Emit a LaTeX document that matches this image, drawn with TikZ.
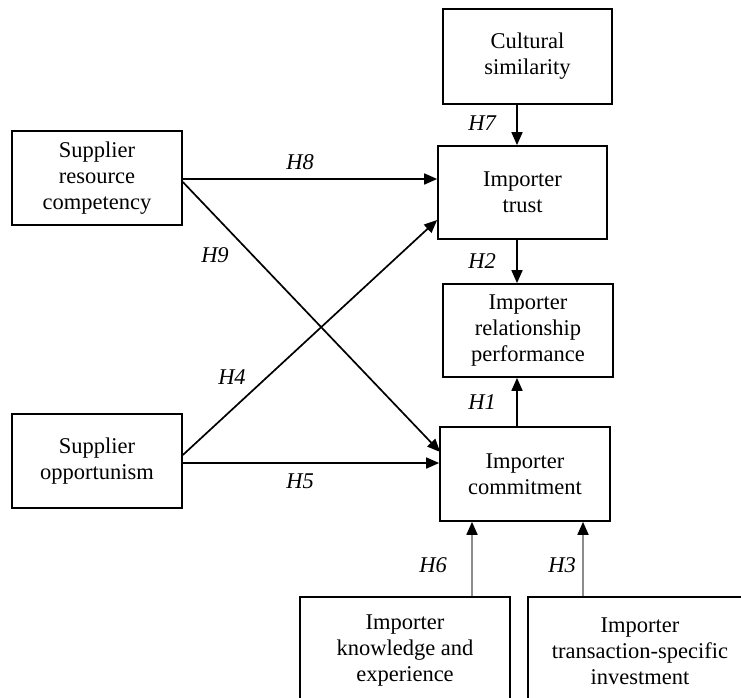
\documentclass[tikz,border=0pt]{standalone}
\usepackage{fontspec}
\setmainfont{Liberation Serif}
\usetikzlibrary{arrows.meta,calc}
\begin{document}
\begin{tikzpicture}[x=1pt,y=-1pt,
  box/.style={draw=black,line width=1.7pt,fill=white,align=center,
    inner sep=0pt,font=\fontsize{22.5}{26}\selectfont},
  arr/.style={line width=1.7pt,-{Triangle[length=13pt,width=11pt]}},
  garr/.style={draw=black!45,line width=1.8pt,-{Triangle[length=13pt,width=11pt,color=black]}},
  hyp/.style={font=\fontsize{22.5}{26}\selectfont\itshape}]
\useasboundingbox (0,0) rectangle (741,698);
\clip (0,0) rectangle (741,698);
\fill[white] (0,0) rectangle (741,698);

% constructs
\node[box,minimum width=169pt,minimum height=95pt] (cs) at (527.5,56.5) {Cultural\\similarity};
\node[box,minimum width=169pt,minimum height=93pt] (tr) at (522.5,192.5) {Importer\\trust};
\node[box,minimum width=170pt,minimum height=93pt] (pf) at (528,330.5) {Importer\\relationship\\performance};
\node[box,minimum width=170pt,minimum height=94pt] (cm) at (525,474) {Importer\\commitment};
\node[box,minimum width=170pt,minimum height=94pt] (src) at (97,178) {Supplier\\resource\\competency};
\node[box,minimum width=170pt,minimum height=94pt] (so) at (97,461) {Supplier\\opportunism};
\node[box,minimum width=210pt,minimum height=108pt] (ke) at (405,651) {Importer\\knowledge and\\experience};
\node[box,minimum width=224pt,minimum height=108pt] (ti) at (640,651) {Importer\\transaction-specific\\investment};

% vertical connector lines
\coordinate (vx) at (517,0);
\coordinate (kx) at (472,0);
\coordinate (tx) at (583,0);

\draw[arr] (cs.south -| vx) -- (tr.north -| vx);
\draw[arr] (tr.south -| vx) -- (pf.north -| vx);
\draw[arr] (cm.north -| vx) -- (pf.south -| vx);
\draw[garr] (ke.north -| kx) -- (cm.south -| kx);
\draw[garr] (ti.north -| tx) -- (cm.south -| tx);

% supplier paths
\draw[arr] ($(src.east)+(0,1)$) -- ($(tr.west |- src.east)+(0,1)$);
\draw[arr] ($(src.east)+(0,4)$) -- ($(cm.west)+(1,-22)$);
\draw[arr] ($(so.east)+(0,-6)$) -- ($(tr.west)+(0,27.5)$);
\draw[arr] ($(so.east)+(0,2)$) -- ($(cm.west |- so.east)+(0,2)$);

% hypothesis labels
\node[hyp] (h8) at (300,162) {H8};
\node[hyp] (h9) at (215,255) {H9};
\node[hyp] (h4) at (232,377) {H4};
\node[hyp] (h5) at (300,481) {H5};
\node[hyp] (h7) at (482,123) {H7};
\node[hyp] (h2) at (482,261) {H2};
\node[hyp] (h1) at (482,402) {H1};
\node[hyp] (h6) at (433,565) {H6};
\node[hyp] (h3) at (562,565) {H3};
\end{tikzpicture}
\end{document}
